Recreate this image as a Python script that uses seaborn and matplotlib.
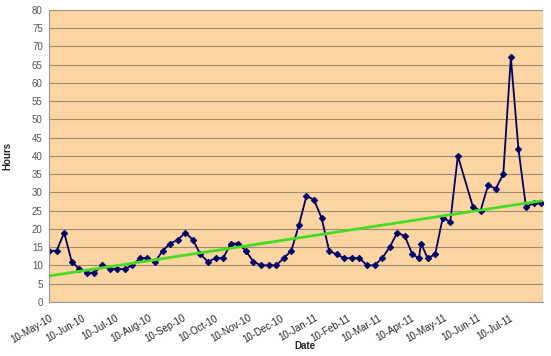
import pandas as pd
import numpy as np
import matplotlib
matplotlib.use("Agg")
import matplotlib.pyplot as plt
import matplotlib.dates as mdates
import seaborn as sns

# weekly readings, one missing week (30-May-11) and one extra reading (19-Apr-11)
dates = list(pd.date_range("2010-05-10", "2011-04-11", freq="7D")) + \
    [pd.Timestamp("2011-04-17"), pd.Timestamp("2011-04-19")] + \
    list(pd.date_range("2011-04-25", "2011-05-23", freq="7D")) + \
    list(pd.date_range("2011-06-06", "2011-08-08", freq="7D"))

hours = [14, 14, 19, 11, 9, 8, 8, 10, 9, 9, 9, 10, 12, 12, 11, 14, 16, 17, 19, 17, 13, 11,
         12, 12, 16, 16, 14, 11, 10, 10, 10, 12, 14, 21, 29, 28, 23, 14, 13, 12, 12, 12, 10,
         10, 12, 15, 19, 18, 13, 12, 16, 12, 13, 23, 22, 40,
         26, 25, 32, 31, 35, 67, 42, 26, 27, 27]

month_ticks = pd.date_range("2010-05-01", "2011-07-01", freq="MS") + pd.Timedelta(days=9)

df = pd.DataFrame({"Date": dates, "Hours": hours})

sns.set_style("white")
plt.rcParams["font.family"] = ["Liberation Sans", "DejaVu Sans"]

fig = plt.figure(figsize=(5.51, 3.56), dpi=100)
ax = fig.add_axes([0.089, 0.152, 0.897, 0.820])
ax.set_facecolor("#FCD5A2")

sns.lineplot(data=df, x="Date", y="Hours", ax=ax, color="#000066", lw=1.3,
             marker="D", markersize=3.2, markeredgecolor="#000066")

# linear trendline like Excel
xn = mdates.date2num(df["Date"])
k, b = np.polyfit(xn, df["Hours"], 1)
ends = np.array([xn[0], xn[-1]])
ax.plot(mdates.num2date(ends), k * ends + b, color="#44DD22", lw=2, zorder=3)

ax.set_ylim(0, 80)
ax.set_yticks(range(0, 81, 5))
ax.set_xlim(pd.Timestamp("2010-05-10"), pd.Timestamp("2011-08-10"))
ax.set_xticks(list(month_ticks) + [pd.Timestamp("2011-08-10")])
ax.set_xticklabels([d.strftime("%d-%b-%y") for d in month_ticks] + [""])
ax.yaxis.grid(True, color="#a08c74", lw=0.8)
ax.set_axisbelow(True)

for s in ["top", "right"]:
    ax.spines[s].set_visible(False)
for s in ["left", "bottom"]:
    ax.spines[s].set_color("#999999")
    ax.spines[s].set_linewidth(0.8)

ax.tick_params(axis="both", direction="out", length=3, color="#999999",
               labelsize=7, width=0.8, pad=1.5)
ax.tick_params(axis="x", pad=5)
ax.tick_params(axis="y", labelcolor="#555555")
plt.setp(ax.get_xticklabels(), rotation=30, ha="right", rotation_mode="anchor")

ax.set_xlabel("Date", fontsize=7, fontweight="bold")
ax.xaxis.set_label_coords(0.518, -0.135)
ax.set_ylabel("Hours", fontsize=7, fontweight="bold", labelpad=14)

fig.savefig("out.png", dpi=100)
